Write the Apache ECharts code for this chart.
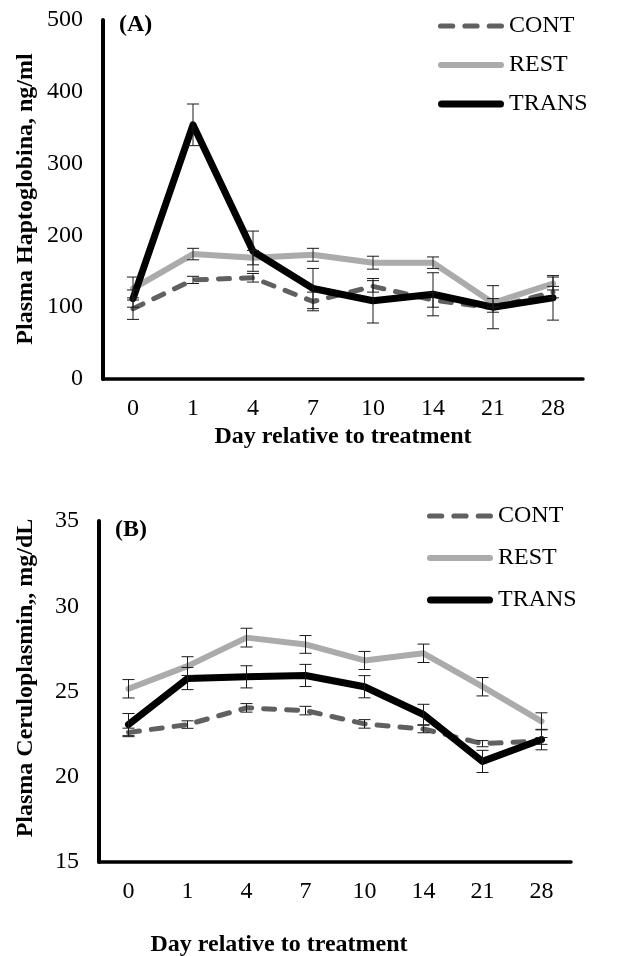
<!DOCTYPE html>
<html>
<head>
<meta charset="utf-8">
<script src="https://cdn.jsdelivr.net/npm/echarts@6/dist/echarts.min.js"></script>
<style>
html,body{margin:0;padding:0;background:#fff;}
#chart{width:619px;height:956px;}
</style>
</head>
<body>
<div id="chart"></div>
<script>
// ---- data ----
const days = ['0', '1', '4', '7', '10', '14', '21', '28'];
const seriesNames = ['CONT', 'REST', 'TRANS'];

// Panel A: Plasma Haptoglobina, ng/ml
const hpCont = [98, 138, 141, 108, 129, 110, 99, 121];
const hpContErr = [15, 5, 6, 13, 8, 10, 6, 8];
const hpRest = [126, 174, 169, 173, 162, 162, 106, 133];
const hpRestErr = [16, 8, 10, 9, 9, 8, 6, 9];
const hpTrans = [112, 354, 178, 126, 109, 118, 100, 113];
const hpTransErr = [12, 29, 28, 28, 31, 30, 30, 31];

// Panel B: Plasma Ceruloplasmin, mg/dL
const cpCont = [22.6, 23.06, 24.04, 23.88, 23.1, 22.8, 21.94, 22.1];
const cpContErr = [0.25, 0.22, 0.25, 0.25, 0.25, 0.22, 0.18, 0.2];
const cpRest = [25.16, 26.49, 28.16, 27.76, 26.82, 27.24, 25.28, 23.25];
const cpRestErr = [0.54, 0.55, 0.55, 0.52, 0.53, 0.54, 0.54, 0.5];
const cpTrans = [23.06, 25.76, 25.86, 25.94, 25.28, 23.65, 20.9, 22.18];
const cpTransErr = [0.65, 0.65, 0.65, 0.65, 0.65, 0.6, 0.65, 0.6];

const yTicksA = {min: 0, max: 500, interval: 100};
const yTicksB = {min: 15, max: 35, interval: 5};

// ---- styling ----
const FONT = "'Liberation Serif', 'Times New Roman', serif";
const styles = {
  CONT: {color: '#606060', width: 5, type: [11, 12],
         icon: 'path://M2.5,0h12a2.5,2.5 0 0 1 0,5h-12a2.5,2.5 0 0 1 0,-5z M26.5,0h12a2.5,2.5 0 0 1 0,5h-12a2.5,2.5 0 0 1 0,-5z M50.5,0h12a2.5,2.5 0 0 1 0,5h-12a2.5,2.5 0 0 1 0,-5z'},
  REST: {color: '#ababab', width: 6, type: 'solid',
         icon: 'path://M3,0h60a3,3 0 0 1 0,6h-60a3,3 0 0 1 0,-6z'},
  TRANS: {color: '#000000', width: 7, type: 'solid',
         icon: 'path://M3.5,0h59a3.5,3.5 0 0 1 0,7h-59a3.5,3.5 0 0 1 0,-7z'}
};

const chart = echarts.init(document.getElementById('chart'), null, {renderer: 'canvas'});

function lineSeries(name, data, idx) {
  const s = styles[name];
  return {
    name: name, type: 'line', xAxisIndex: idx, yAxisIndex: idx,
    data: data, symbol: 'none', showSymbol: false, smooth: false, z: 2,
    lineStyle: {color: s.color, width: s.width, type: s.type, cap: 'round', join: 'round'},
    itemStyle: {color: s.color},
    emphasis: {disabled: true}
  };
}

function errSeries(vals, errs, idx) {
  return {
    name: 'err', type: 'custom', xAxisIndex: idx, yAxisIndex: idx, z: 5,
    data: vals.map((v, i) => [i, v, errs[i]]),
    encode: {x: 0, y: 1},
    renderItem: function (params, api) {
      const x = api.value(0), v = api.value(1), e = api.value(2);
      const hi = api.coord([x, v + e]);
      const lo = api.coord([x, v - e]);
      const w = 6;
      const st = {stroke: '#1a1a1a', lineWidth: 1, fill: null};
      return {
        type: 'group',
        children: [
          {type: 'line', shape: {x1: hi[0], y1: hi[1], x2: lo[0], y2: lo[1]}, style: st},
          {type: 'line', shape: {x1: hi[0] - w, y1: hi[1], x2: hi[0] + w, y2: hi[1]}, style: st},
          {type: 'line', shape: {x1: lo[0] - w, y1: lo[1], x2: lo[0] + w, y2: lo[1]}, style: st}
        ]
      };
    },
    silent: true
  };
}

function xAxisCfg(idx) {
  return {
    type: 'category', gridIndex: idx, data: days, boundaryGap: true,
    axisLine: {show: true, lineStyle: {color: '#000', width: 3.5}},
    axisTick: {show: false},
    axisLabel: {fontFamily: FONT, fontSize: 24, color: '#000', margin: 18},
    splitLine: {show: false}
  };
}
function yAxisCfg(idx, t) {
  return {
    type: 'value', gridIndex: idx, min: t.min, max: t.max, interval: t.interval,
    axisLine: {show: true, lineStyle: {color: '#000', width: 4}},
    axisTick: {show: false},
    axisLabel: {fontFamily: FONT, fontSize: 24, color: '#000', margin: 20},
    splitLine: {show: false}
  };
}

const legendText = {fontFamily: FONT, fontSize: 24, color: '#000'};
const legendData = seriesNames.map(n => ({
  name: n, icon: styles[n].icon,
  itemStyle: {color: styles[n].color, borderWidth: 0}
}));

const option = {
  animation: false,
  backgroundColor: '#fff',
  grid: [
    {left: 103, right: 36, top: 20, height: 359},
    {left: 99, right: 48, top: 521, height: 341}
  ],
  xAxis: [xAxisCfg(0), xAxisCfg(1)],
  yAxis: [yAxisCfg(0, yTicksA), yAxisCfg(1, yTicksB)],
  legend: [
    {orient: 'vertical', left: 433, top: 9, itemWidth: 66, itemHeight: 7, itemGap: 15,
     data: legendData, textStyle: legendText, selectedMode: false,
     itemStyle: {borderWidth: 0}},
    {orient: 'vertical', left: 422, top: 499, itemWidth: 66, itemHeight: 7, itemGap: 18,
     data: legendData, textStyle: legendText, selectedMode: false,
     itemStyle: {borderWidth: 0}}
  ],
  graphic: [
    {type: 'text', left: 119, top: 13, style: {text: '(A)', font: 'bold 24px ' + FONT, fill: '#000'}},
    {type: 'text', left: 115, top: 518, style: {text: '(B)', font: 'bold 24px ' + FONT, fill: '#000'}},
    {type: 'text', x: 343, y: 437, style: {text: 'Day relative to treatment', font: 'bold 24px ' + FONT, fill: '#000', textAlign: 'center', textVerticalAlign: 'middle'}},
    {type: 'text', x: 279, y: 945, style: {text: 'Day relative to treatment', font: 'bold 24px ' + FONT, fill: '#000', textAlign: 'center', textVerticalAlign: 'middle'}},
    {type: 'text', x: 26, y: 199, rotation: Math.PI / 2, style: {text: 'Plasma Haptoglobina, ng/ml', font: 'bold 24px ' + FONT, fill: '#000', textAlign: 'center', textVerticalAlign: 'middle'}},
    {type: 'text', x: 26, y: 678, rotation: Math.PI / 2, style: {text: 'Plasma Ceruloplasmin,, mg/dL', font: 'bold 24px ' + FONT, fill: '#000', textAlign: 'center', textVerticalAlign: 'middle'}}
  ],
  series: [
    lineSeries('CONT', hpCont, 0),
    lineSeries('REST', hpRest, 0),
    lineSeries('TRANS', hpTrans, 0),
    errSeries(hpCont, hpContErr, 0),
    errSeries(hpRest, hpRestErr, 0),
    errSeries(hpTrans, hpTransErr, 0),
    lineSeries('CONT', cpCont, 1),
    lineSeries('REST', cpRest, 1),
    lineSeries('TRANS', cpTrans, 1),
    errSeries(cpCont, cpContErr, 1),
    errSeries(cpRest, cpRestErr, 1),
    errSeries(cpTrans, cpTransErr, 1)
  ]
};
chart.setOption(option);
</script>
</body>
</html>
